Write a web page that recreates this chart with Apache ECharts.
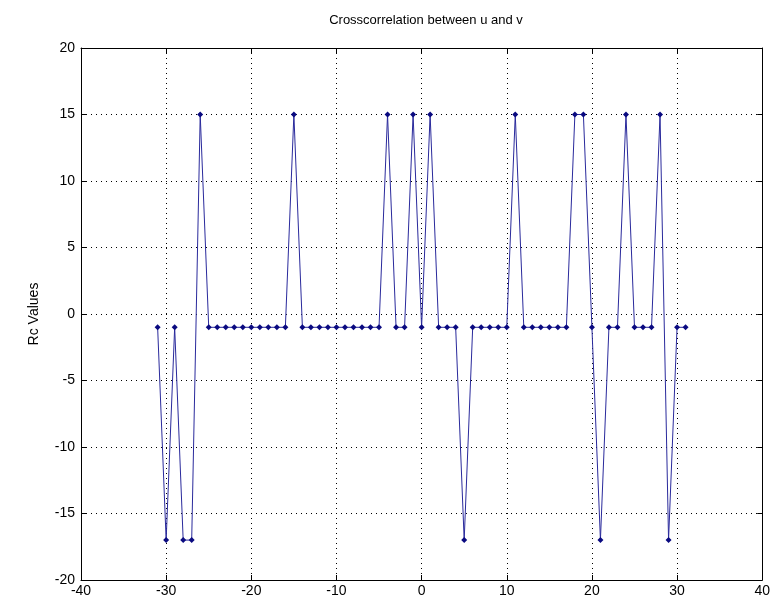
<!DOCTYPE html>
<html><head><meta charset="utf-8">
<script src="https://cdn.jsdelivr.net/npm/echarts@6/dist/echarts.min.js"></script>
<style>html,body{margin:0;padding:0;background:#fff}#c{width:773px;height:603px}</style>
</head><body><div id="c"></div>
<script>
const lags = [-31,-30,-29,-28,-27,-26,-25,-24,-23,-22,-21,-20,-19,-18,-17,-16,-15,-14,-13,-12,-11,-10,-9,-8,-7,-6,-5,-4,-3,-2,-1,0,1,2,3,4,5,6,7,8,9,10,11,12,13,14,15,16,17,18,19,20,21,22,23,24,25,26,27,28,29,30,31];
const rcValues = [-1,-17,-1,-17,-17,15,-1,-1,-1,-1,-1,-1,-1,-1,-1,-1,15,-1,-1,-1,-1,-1,-1,-1,-1,-1,-1,15,-1,-1,15,-1,15,-1,-1,-1,-17,-1,-1,-1,-1,-1,15,-1,-1,-1,-1,-1,-1,15,15,-1,-17,-1,-1,15,-1,-1,-1,15,-17,-1,-1];
const titleText = 'Crosscorrelation between u and v';
const yLabel = 'Rc Values';

const chart = echarts.init(document.getElementById('c'), null, {renderer:'canvas'});
const font = 'Liberation Sans, Arial, sans-serif';
const axisCommon = () => ({
  axisLine:{show:true, onZero:false, lineStyle:{color:'#000', width:1}},
  axisTick:{show:true, inside:true, length:5, lineStyle:{color:'#000'}},
});
chart.setOption({
  animation:false,
  backgroundColor:'#fff',
  title:{text:titleText, left:421, top:9, textAlign:'center',
    textStyle:{fontFamily:font, fontSize:13, fontWeight:'normal', color:'#000'}},
  grid:{left:81, right:7, top:48, bottom:23},
  xAxis:[
    Object.assign({type:'value', min:-40, max:40, interval:10, position:'bottom',
      axisLabel:{fontFamily:font, fontSize:14, color:'#000', margin:4},
      splitLine:{show:true, lineStyle:{type:[1,4], color:'#000', width:1}}}, axisCommon()),
    Object.assign({type:'value', min:-40, max:40, interval:10, position:'top',
      axisLabel:{show:false}, splitLine:{show:false}}, axisCommon())
  ],
  yAxis:[
    Object.assign({type:'value', min:-20, max:20, interval:5, position:'left',
      name:yLabel, nameLocation:'middle', nameGap:40,
      nameTextStyle:{fontFamily:font, fontSize:14, color:'#000'},
      axisLabel:{fontFamily:font, fontSize:14, color:'#000', margin:6},
      splitLine:{show:true, lineStyle:{type:[1,4], color:'#000', width:1}}}, axisCommon()),
    Object.assign({type:'value', min:-20, max:20, interval:5, position:'right',
      axisLabel:{show:false}, splitLine:{show:false}}, axisCommon())
  ],
  series:[{
    type:'line',
    data: lags.map((x,i)=>[x, rcValues[i]]),
    symbol:'diamond', symbolSize:6, showSymbol:true,
    lineStyle:{color:'#2a2a9c', width:1},
    itemStyle:{color:'#0a0a80'}
  }]
});
</script></body></html>
